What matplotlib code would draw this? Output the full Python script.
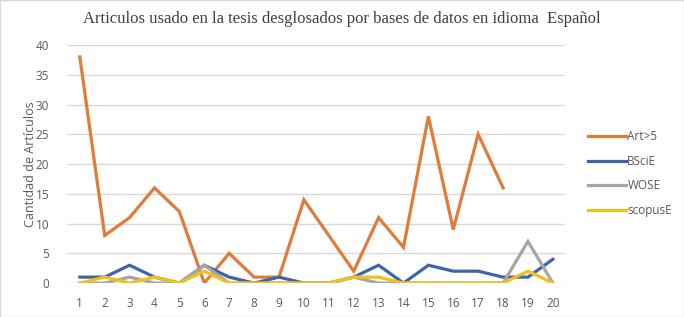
import matplotlib.pyplot as plt

categories = list(range(1, 21))
art5 = [38, 8, 11, 16, 12, 0, 5, 1, 1, 14, 8, 2, 11, 6, 28, 9, 25, 16]
bscie = [1, 1, 3, 1, 0, 3, 1, 0, 1, 0, 0, 1, 3, 0, 3, 2, 2, 1, 1, 4]
wose = [0, 0, 1, 0, 0, 3, 0, 0, 0, 0, 0, 1, 0, 0, 0, 0, 0, 0, 7, 0]
scopuse = [0, 1, 0, 1, 0, 2, 0, 0, 0, 0, 0, 1, 1, 0, 0, 0, 0, 0, 2, 0]

series = [
    ("Art>5", art5, "#E07B39"),
    ("BSciE", bscie, "#3F65A8"),
    ("WOSE", wose, "#A5A5A5"),
    ("scopusE", scopuse, "#EEC21C"),
]

fig = plt.figure(figsize=(6.84, 3.17), dpi=100)
ax = fig.add_axes([0.0985, 0.107, 0.728, 0.751])

for name, vals, col in series:
    ax.plot(categories[:len(vals)], vals, color=col, lw=2.3, label=name,
            solid_joinstyle="miter")

ax.set_xlim(0.5, 20.5)
ax.set_ylim(0, 40)
ax.set_xticks(categories)
ax.set_yticks(range(0, 41, 5))
ax.tick_params(length=0, labelsize=8.5, labelcolor="#595959")
ax.tick_params(axis="x", pad=10)
ax.tick_params(axis="y", pad=13)
for lbl in ax.get_xticklabels() + ax.get_yticklabels():
    lbl.set_family("Open Sans")
ax.grid(axis="y", color="#D9D9D9", lw=1)
ax.set_axisbelow(True)
for s in ax.spines.values():
    s.set_visible(False)

ax.set_ylabel("Cantidad de Artículos", fontsize=9, color="#595959",
              family="Open Sans", labelpad=-1)
fig.text(0.5, 0.94, "Articulos usado en la tesis desglosados por bases de datos en idioma  Español",
         ha="center", va="center", fontsize=12, family="Liberation Serif", color="#404040")

leg = ax.legend(loc="center left", bbox_to_anchor=(1.025, 0.46), frameon=False,
                fontsize=8.5, handlelength=3.2, handletextpad=0.1, labelspacing=1.0)
for t in leg.get_texts():
    t.set_color("#595959")
    t.set_family("Open Sans")

fig.patches.append(plt.Rectangle((0, 0), 1, 1, transform=fig.transFigure,
                                 fill=False, edgecolor="#D9D9D9", lw=1))
fig.savefig("out.png", dpi=100)
